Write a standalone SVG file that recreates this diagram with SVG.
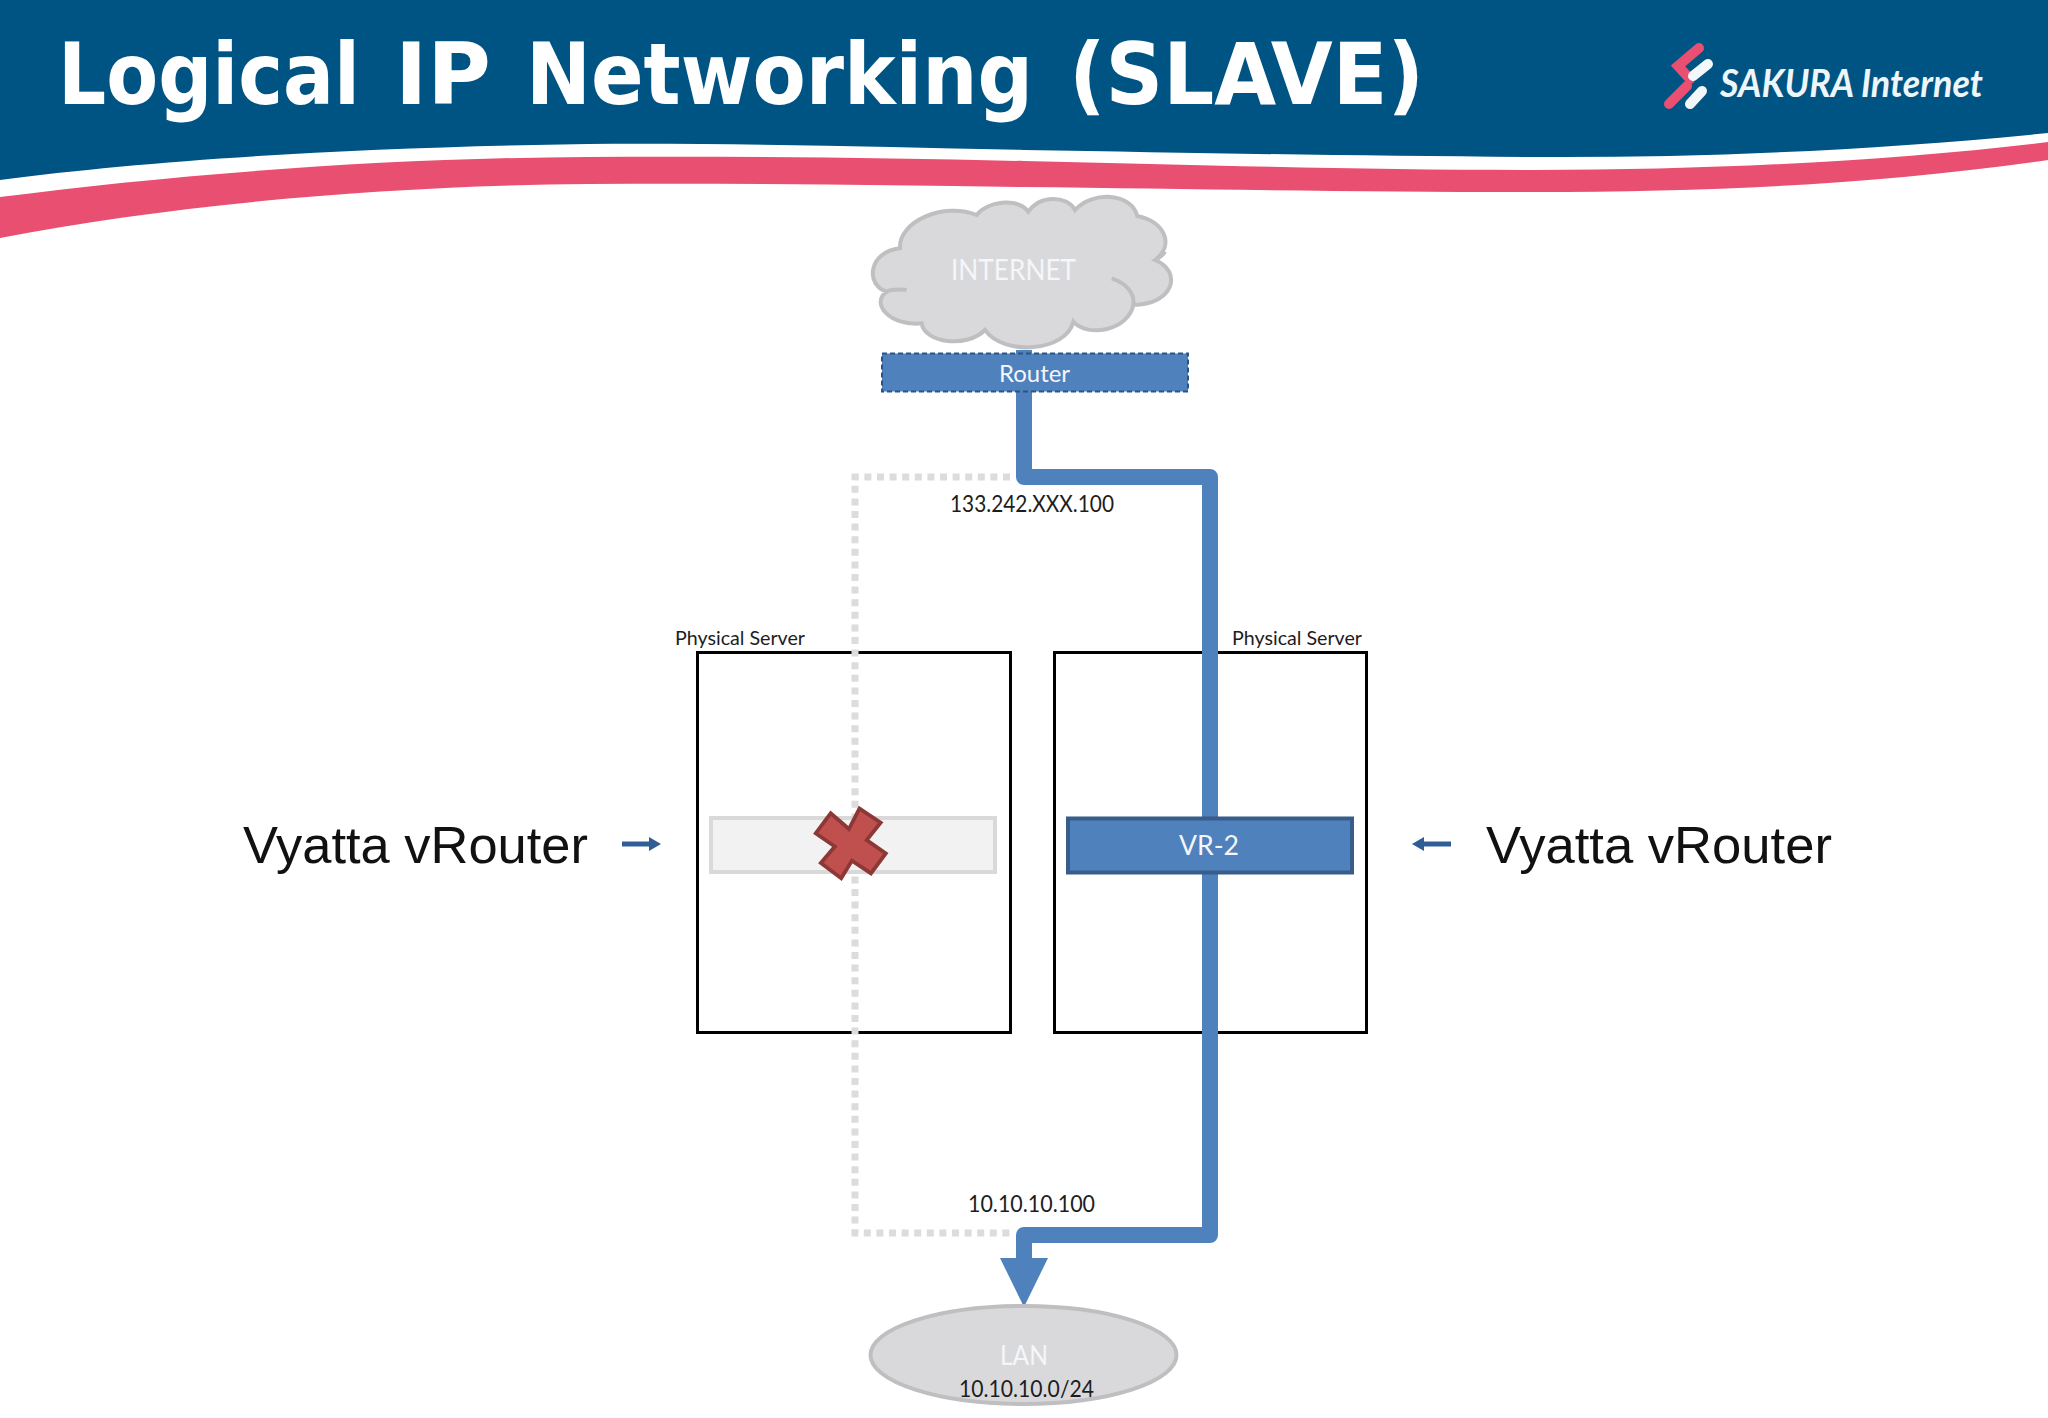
<svg xmlns="http://www.w3.org/2000/svg" width="2048" height="1418" viewBox="0 0 2048 1418">
<style>
.lb{font-family:"Lato","Open Sans",sans-serif}
.w{fill:#f4f6f9}
.k{fill:#1d1d1d}
.v{font-family:"Liberation Sans",Arial,sans-serif;font-size:52px;fill:#111}
.box{fill:#fff;stroke:#000;stroke-width:3}
.gray{fill:#d9d9db;stroke:#bfbfc1;stroke-width:4}
</style>
<defs>
<marker id="bigHead" markerUnits="userSpaceOnUse" markerWidth="50" markerHeight="50" refX="0" refY="25" orient="auto"><path d="M0,1L49,25L0,49Z" fill="#4f81bd"/></marker>
<marker id="smallHead" markerUnits="userSpaceOnUse" markerWidth="16" markerHeight="16" refX="1" refY="8" orient="auto"><path d="M0,1L12,8L0,15Z" fill="#2f5e97"/></marker>
</defs>
<rect width="2048" height="1418" fill="#fff"/>
<g id="header">
<path d="M0,0H2048V133C1880,150 1700,158 1533,157C1360,156 1200,153 1024,150C880,147 740,143 588,144C360,147 150,160 0,180Z" fill="#005484"/>
<path d="M0,197C170,175 380,158 588,157C740,156 880,158 1024,161C1200,165 1360,170 1533,170C1720,170 1900,160 2048,142V160C1880,184 1720,192 1533,192C1360,192 1200,189 1024,187C880,185 740,183 588,184C380,186 170,205 0,238Z" fill="#e94f70"/>
<text y="104" font-family="'DejaVu Sans',sans-serif" font-weight="700" font-size="85" fill="#fff"><tspan x="58" textLength="302" lengthAdjust="spacingAndGlyphs">Logical</tspan> <tspan x="395" textLength="96" lengthAdjust="spacingAndGlyphs">IP</tspan> <tspan x="526" textLength="507" lengthAdjust="spacingAndGlyphs">Networking</tspan> <tspan x="1069" textLength="355" lengthAdjust="spacingAndGlyphs">(SLAVE)</tspan></text>
</g>
<g id="logo" stroke-linecap="round" fill="none" stroke-width="10">
<path d="M1699,48L1678,66L1690,79" stroke="#e94f70"/>
<path d="M1687,86L1669,104" stroke="#e94f70"/>
<path d="M1708,64L1693,76" stroke="#f2f7fa"/>
<path d="M1702,91L1690,104" stroke="#f2f7fa"/>
<text x="1720" y="97" font-family="Lato,'Open Sans',sans-serif" font-style="italic" font-weight="700" font-size="38" fill="#eef6fa" stroke="none" textLength="263" lengthAdjust="spacingAndGlyphs">SAKURA Internet</text>
</g>
<g id="internet">
<path class="gray" transform="translate(840,180) scale(.3333)" style="stroke-width:12" d="M180,205C175,125 310,65 410,105C440,65 530,50 565,95C600,45 680,45 705,90C760,30 875,40 892,108C975,125 1005,195 945,240C1030,275 1000,375 880,375C865,450 745,475 700,425C680,515 490,530 435,450C380,505 255,490 245,430C150,440 90,370 140,335C75,315 85,215 180,205Z"/>
<path d="M815,295C860,310 885,340 880,375M140,335C160,325 180,328 200,330M945,240C955,235 970,225 975,215" transform="translate(840,180) scale(.3333)" fill="none" stroke="#bfbfc1" stroke-width="12"/>
<text class="lb w" x="951" y="280" font-size="28" textLength="125" lengthAdjust="spacingAndGlyphs">INTERNET</text>
</g>
<g id="server-1"><rect class="box" x="697.500" y="652.500" width="313" height="380"/><text class="lb k" x="675" y="645" font-size="20" textLength="130" lengthAdjust="spacingAndGlyphs">Physical Server</text></g>
<g id="server-2"><rect class="box" x="1054.500" y="652.500" width="312" height="380"/><text class="lb k" x="1232" y="645" font-size="20" textLength="130" lengthAdjust="spacingAndGlyphs">Physical Server</text></g>
<g id="connectors" fill="none">
<path d="M1010,477H855V1233H1010" stroke="#dcdcdc" stroke-width="7" stroke-dasharray="7 5.600"/>
<path d="M1024,350V477H1210V1235H1024V1258" stroke="#4f81bd" stroke-width="16" stroke-linejoin="round" marker-end="url(#bigHead)"/>
<path d="M622,844H650" stroke="#2f5e97" stroke-width="5" marker-end="url(#smallHead)"/>
<path d="M1451,844H1423" stroke="#2f5e97" stroke-width="5" marker-end="url(#smallHead)"/>
</g>
<g id="router"><rect x="882" y="353.500" width="306" height="38" fill="#4f81bd" stroke="#2a5488" stroke-width="2" stroke-dasharray="5 3"/><text class="lb w" x="999" y="382" font-size="24" textLength="71" lengthAdjust="spacingAndGlyphs">Router</text></g>
<g id="vr-1"><rect x="711" y="818" width="284" height="54" fill="#f2f2f3" stroke="#d9d9d9" stroke-width="4"/>
<polygon transform="translate(851,843) scale(.95) translate(-851,-843)" points="829.600,811.700 848.800,828.300 859.900,806.700 882.200,821.700 867.500,840 887.600,854 872,875 851.900,861.700 840.700,880 819.300,864 834,846.700 813.900,832.700" fill="#c0504d" stroke="#8c3836" stroke-width="4"/></g>
<g id="vr-2"><rect x="1068" y="818.500" width="284" height="54" fill="#4f81bd" stroke="#385d8a" stroke-width="4"/><text class="lb w" x="1179" y="855" font-size="27" textLength="60" lengthAdjust="spacingAndGlyphs">VR-2</text></g>
<g id="lan"><ellipse class="gray" cx="1023.500" cy="1355" rx="153" ry="49"/><text class="lb w" x="1000" y="1365" font-size="26" textLength="48" lengthAdjust="spacingAndGlyphs">LAN</text><text class="lb k" x="959" y="1397" font-size="23" textLength="135" lengthAdjust="spacingAndGlyphs">10.10.10.0/24</text></g>
<g id="labels">
<text class="lb k" x="950" y="512" font-size="23" textLength="164" lengthAdjust="spacingAndGlyphs">133.242.XXX.100</text>
<text class="lb k" x="968" y="1212" font-size="23" textLength="127" lengthAdjust="spacingAndGlyphs">10.10.10.100</text>
<text class="v" x="243" y="863" textLength="345" lengthAdjust="spacingAndGlyphs">Vyatta vRouter</text>
<text class="v" x="1486" y="863" textLength="346" lengthAdjust="spacingAndGlyphs">Vyatta vRouter</text>
</g>
</svg>
